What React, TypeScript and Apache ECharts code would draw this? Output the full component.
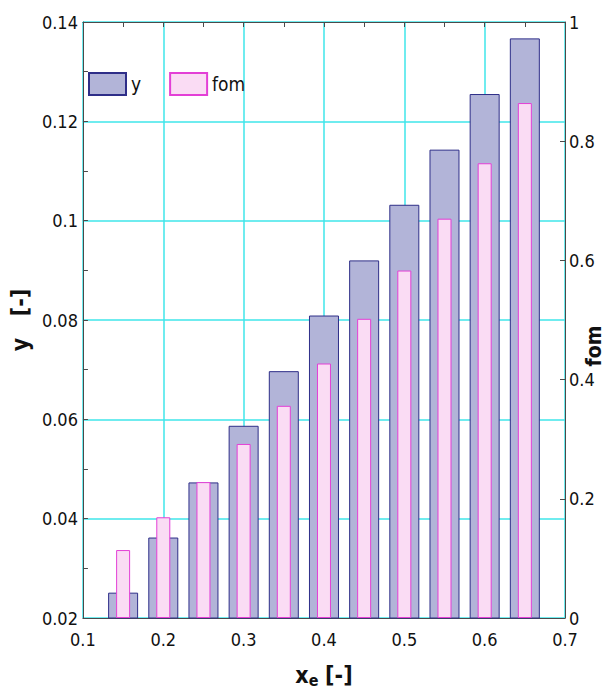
import React, { useEffect, useRef } from "react";
import * as echarts from "echarts";

const xCenters = [0.15, 0.2, 0.25, 0.3, 0.35, 0.4, 0.45, 0.5, 0.55, 0.6, 0.65];
const yValues = [0.0251, 0.0362, 0.0473, 0.0587, 0.0697, 0.0809, 0.092, 0.1032, 0.1143, 0.1255, 0.1367];
const fomValues = [0.114, 0.169, 0.228, 0.292, 0.356, 0.427, 0.502, 0.583, 0.67, 0.763, 0.864];
const seriesNames = ["y", "fom"];

const FONT = "'DejaVu Sans Condensed', 'Liberation Sans', Arial, sans-serif";
const AXIS_COLOR = "#4a4a4a";
const GRID_COLOR = "#3fe6ea";

export default function App() {
  const ref = useRef<HTMLDivElement>(null);
  useEffect(() => {
    if (!ref.current) return;
    const chart = echarts.init(ref.current, undefined, { renderer: "svg" });
    const tickLabel = { fontFamily: FONT, fontSize: 18, color: "#111" };
    chart.setOption({
      animation: false,
      backgroundColor: "#ffffff",
      grid: { left: 78, right: 42, top: 22, bottom: 82, containLabel: false },
      legend: {
        left: 83,
        top: 67,
        itemWidth: 37,
        itemHeight: 22,
        itemGap: 28,
        icon: "rect",
        textStyle: { fontFamily: FONT, fontSize: 19, color: "#111", padding: [6, 0, 0, 0] },
        data: seriesNames,
      },
      xAxis: [
        {
          type: "value",
          min: 0.1,
          max: 0.7,
          interval: 0.1,
          position: "bottom",
          axisLine: { show: true, onZero: false, lineStyle: { color: AXIS_COLOR, width: 1 } },
          axisTick: { show: true, inside: true, length: 5, lineStyle: { color: AXIS_COLOR } },
          minorTick: { show: true, splitNumber: 2, length: 5, lineStyle: { color: AXIS_COLOR } },
          splitLine: { show: true, lineStyle: { color: GRID_COLOR, width: 1.5 } },
          axisLabel: { ...tickLabel, margin: 12 },
          name: "{a|x}{b|e}  {a|[-]}",
          nameLocation: "middle",
          nameGap: 44,
          nameTextStyle: {
            rich: {
              a: { fontFamily: FONT, fontSize: 23, fontWeight: "bold", color: "#111" },
              b: { fontFamily: FONT, fontSize: 16, fontWeight: "bold", color: "#111", padding: [10, 0, 0, 0] },
            },
          },
        },
        {
          type: "value",
          min: 0.1,
          max: 0.7,
          interval: 0.1,
          position: "top",
          axisLine: { show: true, onZero: false, lineStyle: { color: AXIS_COLOR, width: 1 } },
          axisTick: { show: true, inside: true, length: 5, lineStyle: { color: AXIS_COLOR } },
          minorTick: { show: true, splitNumber: 2, length: 5, lineStyle: { color: AXIS_COLOR } },
          splitLine: { show: false },
          axisLabel: { show: false },
        },
      ],
      yAxis: [
        {
          type: "value",
          min: 0.02,
          max: 0.14,
          interval: 0.02,
          position: "left",
          axisLine: { show: true, onZero: false, lineStyle: { color: AXIS_COLOR, width: 1 } },
          axisTick: { show: true, inside: true, length: 5, lineStyle: { color: AXIS_COLOR } },
          minorTick: { show: true, splitNumber: 2, length: 5, lineStyle: { color: AXIS_COLOR } },
          splitLine: { show: true, lineStyle: { color: GRID_COLOR, width: 1.5 } },
          axisLabel: { ...tickLabel, margin: 5 },
          name: "y   [-]",
          nameLocation: "middle",
          nameGap: 48,
          nameTextStyle: { fontFamily: FONT, fontSize: 23, fontWeight: "bold", color: "#111" },
        },
        {
          type: "value",
          min: 0,
          max: 1,
          interval: 0.2,
          position: "right",
          axisLine: { show: true, onZero: false, lineStyle: { color: AXIS_COLOR, width: 1 } },
          axisTick: { show: true, inside: true, length: 5, lineStyle: { color: AXIS_COLOR } },
          splitLine: { show: false },
          axisLabel: { ...tickLabel, margin: 4 },
        },
      ],
      graphic: [
        {
          type: "text",
          x: 594,
          y: 346,
          rotation: Math.PI / 2,
          style: {
            text: "fom",
            font: `bold 21px ${FONT}`,
            fill: "#111",
            align: "center",
            verticalAlign: "middle",
          },
        },
      ],
      series: [
        {
          name: seriesNames[0],
          type: "bar",
          xAxisIndex: 0,
          yAxisIndex: 0,
          barWidth: 30,
          data: xCenters.map((x, i) => [x, yValues[i]]),
          itemStyle: { color: "#b2b4d8", borderColor: "#2e2e88", borderWidth: 1 },
          z: 2,
        },
        {
          name: seriesNames[1],
          type: "bar",
          xAxisIndex: 1,
          yAxisIndex: 1,
          barWidth: 14,
          data: xCenters.map((x, i) => [x, fomValues[i]]),
          itemStyle: { color: "#fadcf4", borderColor: "#e33fd6", borderWidth: 1 },
          z: 3,
        },
      ],
    });
    return () => chart.dispose();
  }, []);
  return <div ref={ref} style={{ position: "fixed", left: 0, top: 0, width: 607, height: 700 }} />;
}
